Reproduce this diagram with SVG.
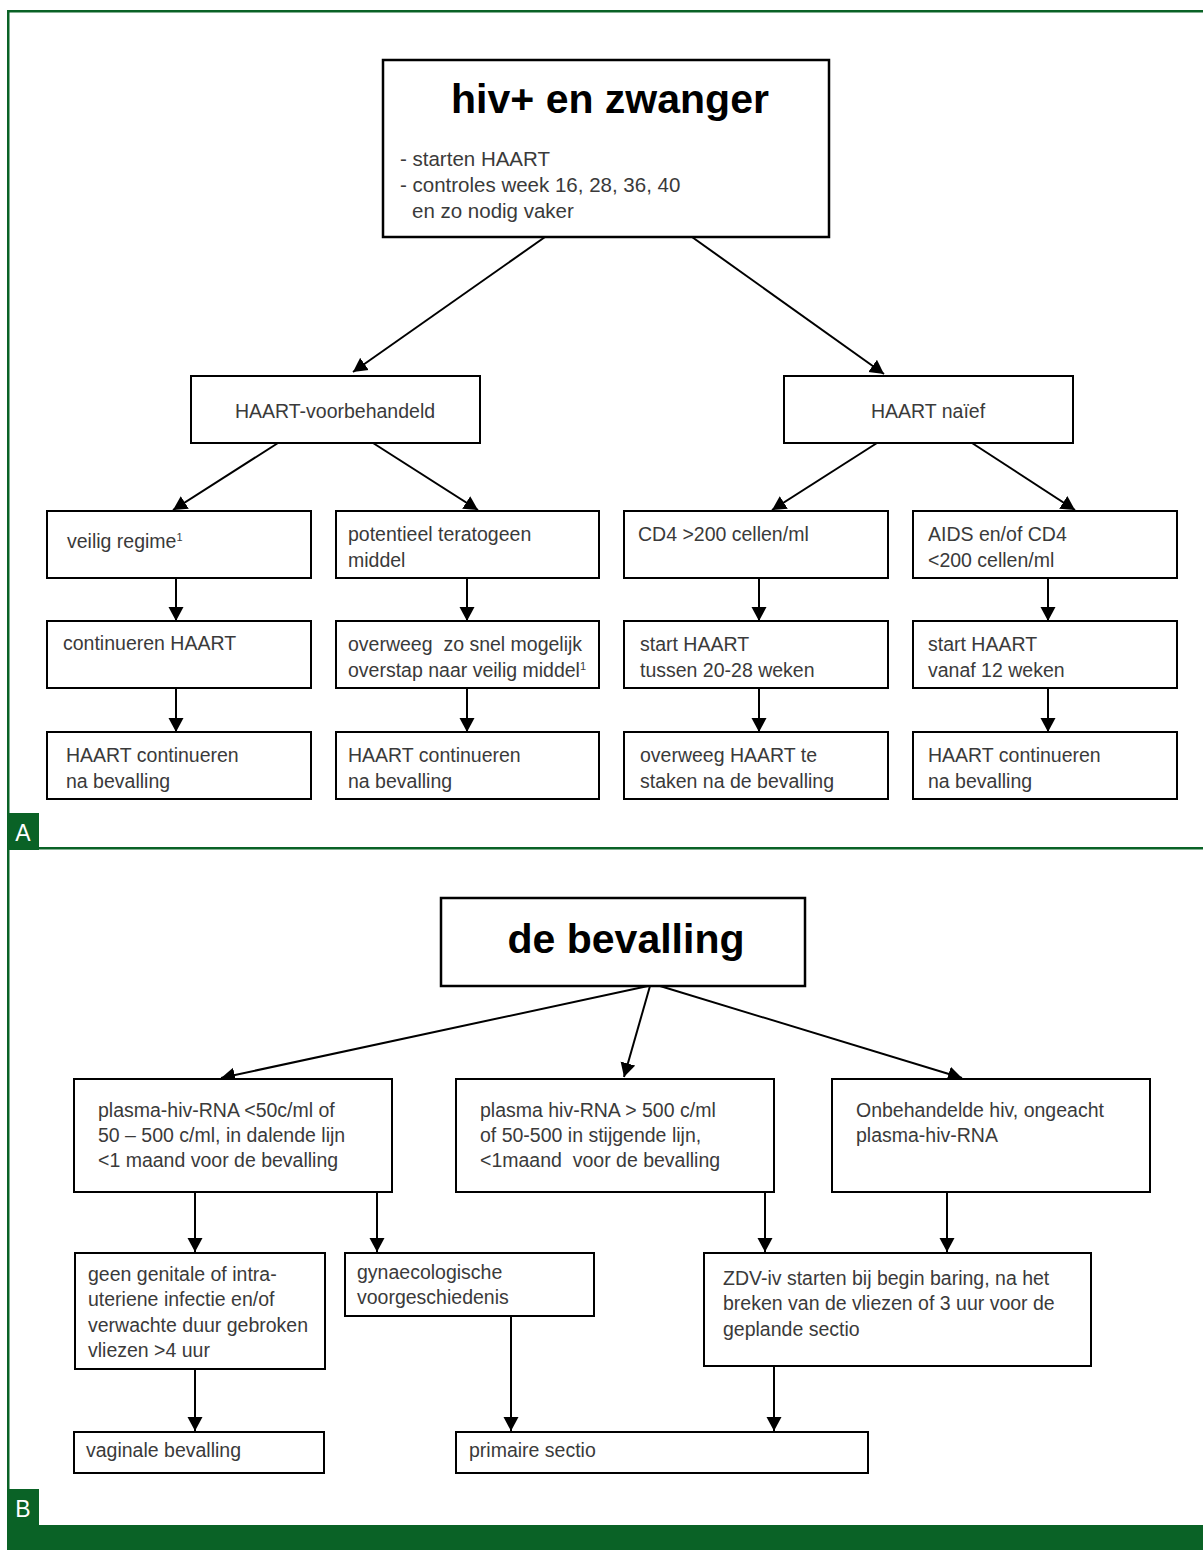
<svg xmlns="http://www.w3.org/2000/svg" width="1203" height="1550" viewBox="0 0 1203 1550">
<style>
.box{fill:#fff;stroke:#000;stroke-width:2}
.t{font-family:"Liberation Sans",Arial,sans-serif;font-size:19.5px;fill:#3a3a3a;white-space:pre}
.tb{font-size:20.5px}
.title{font-family:"Liberation Sans",Arial,sans-serif;font-size:41px;font-weight:bold;fill:#000;text-anchor:middle}
.sup{font-size:11px}
.c{stroke:#000;stroke-width:2;fill:none;marker-end:url(#ah)}
.lab{font-family:"Liberation Sans",Arial,sans-serif;font-size:23px;fill:#fff;text-anchor:middle}
.g{fill:#0a6226}
</style>
<defs>
<marker id="ah" markerUnits="userSpaceOnUse" markerWidth="16" markerHeight="16" refX="14" refY="8" orient="auto">
<path d="M0,0.5 L14,8 L0,15.5 z" fill="#000"/>
</marker>
</defs>
<rect width="1203" height="1550" fill="#fff"/>
<g id="frame">
<rect class="g" x="7" y="10" width="1196" height="2.5"/>
<rect class="g" x="7" y="10" width="2.5" height="1515"/>
<rect class="g" x="7" y="847" width="1196" height="2.5"/>
<rect class="g" x="7" y="813" width="32" height="37"/>
<text class="lab" x="23" y="841">A</text>
<rect class="g" x="7" y="1489" width="32" height="37"/>
<text class="lab" x="23" y="1517">B</text>
<rect class="g" x="7" y="1525" width="1196" height="25"/>
</g>
<g id="connectors">
<line class="c" x1="545" y1="237" x2="353" y2="372"/>
<line class="c" x1="692" y1="237" x2="884" y2="374"/>
<line class="c" x1="278" y1="443" x2="173" y2="510"/>
<line class="c" x1="373" y1="443" x2="478" y2="510"/>
<line class="c" x1="877" y1="443" x2="772" y2="510"/>
<line class="c" x1="972" y1="443" x2="1075" y2="510"/>
<line class="c" x1="176" y1="578" x2="176" y2="621"/>
<line class="c" x1="467" y1="578" x2="467" y2="621"/>
<line class="c" x1="759" y1="578" x2="759" y2="621"/>
<line class="c" x1="1048" y1="578" x2="1048" y2="621"/>
<line class="c" x1="176" y1="688" x2="176" y2="732"/>
<line class="c" x1="467" y1="688" x2="467" y2="732"/>
<line class="c" x1="759" y1="688" x2="759" y2="732"/>
<line class="c" x1="1048" y1="688" x2="1048" y2="732"/>
<line class="c" x1="648" y1="986" x2="221" y2="1078"/>
<line class="c" x1="650" y1="986" x2="624" y2="1077"/>
<line class="c" x1="660" y1="986" x2="962" y2="1078"/>
<line class="c" x1="195" y1="1192" x2="195" y2="1252"/>
<line class="c" x1="377" y1="1192" x2="377" y2="1252"/>
<line class="c" x1="765" y1="1192" x2="765" y2="1252"/>
<line class="c" x1="947" y1="1192" x2="947" y2="1252"/>
<line class="c" x1="195" y1="1369" x2="195" y2="1431"/>
<line class="c" x1="511" y1="1316" x2="511" y2="1431"/>
<line class="c" x1="774" y1="1366" x2="774" y2="1431"/>
</g>
<g id="n-top">
<rect class="box" x="383" y="60" width="446" height="177" style="stroke-width:2.5"/>
<text class="title" x="610" y="113">hiv+ en zwanger</text>
<text class="t tb" x="400" y="166">- starten HAART</text>
<text class="t tb" x="400" y="192">- controles week 16, 28, 36, 40</text>
<text class="t tb" x="412" y="218">en zo nodig vaker</text>
</g>
<g id="n-voorbehandeld">
<rect class="box" x="191" y="376" width="289" height="67"/>
<text class="t" x="335" y="418" text-anchor="middle">HAART-voorbehandeld</text>
</g>
<g id="n-naief">
<rect class="box" x="784" y="376" width="289" height="67"/>
<text class="t" x="928" y="418" text-anchor="middle">HAART naïef</text>
</g>
<g id="n-veilig">
<rect class="box" x="47" y="511" width="264" height="67"/>
<text class="t" x="67" y="548">veilig regime<tspan class="sup" dy="-7">1</tspan></text>
</g>
<g id="n-teratogeen">
<rect class="box" x="336" y="511" width="263" height="67"/>
<text class="t" x="348" y="541">potentieel teratogeen</text>
<text class="t" x="348" y="567">middel</text>
</g>
<g id="n-cd4hi">
<rect class="box" x="624" y="511" width="264" height="67"/>
<text class="t" x="638" y="541">CD4 &gt;200 cellen/ml</text>
</g>
<g id="n-aids">
<rect class="box" x="913" y="511" width="264" height="67"/>
<text class="t" x="928" y="541">AIDS en/of CD4</text>
<text class="t" x="928" y="567">&lt;200 cellen/ml</text>
</g>
<g id="n-continueren">
<rect class="box" x="47" y="621" width="264" height="67"/>
<text class="t" x="63" y="650">continueren HAART</text>
</g>
<g id="n-overstap">
<rect class="box" x="336" y="621" width="263" height="67"/>
<text class="t" x="348" y="651" xml:space="preserve">overweeg  zo snel mogelijk</text>
<text class="t" x="348" y="677">overstap naar veilig middel<tspan class="sup" dy="-7">1</tspan></text>
</g>
<g id="n-start2028">
<rect class="box" x="624" y="621" width="264" height="67"/>
<text class="t" x="640" y="651">start HAART</text>
<text class="t" x="640" y="677">tussen 20-28 weken</text>
</g>
<g id="n-start12">
<rect class="box" x="913" y="621" width="264" height="67"/>
<text class="t" x="928" y="651">start HAART</text>
<text class="t" x="928" y="677">vanaf 12 weken</text>
</g>
<g id="n-na1">
<rect class="box" x="47" y="732" width="264" height="67"/>
<text class="t" x="66" y="762">HAART continueren</text>
<text class="t" x="66" y="788">na bevalling</text>
</g>
<g id="n-na2">
<rect class="box" x="336" y="732" width="263" height="67"/>
<text class="t" x="348" y="762">HAART continueren</text>
<text class="t" x="348" y="788">na bevalling</text>
</g>
<g id="n-staken">
<rect class="box" x="624" y="732" width="264" height="67"/>
<text class="t" x="640" y="762">overweeg HAART te</text>
<text class="t" x="640" y="788">staken na de bevalling</text>
</g>
<g id="n-na4">
<rect class="box" x="913" y="732" width="264" height="67"/>
<text class="t" x="928" y="762">HAART continueren</text>
<text class="t" x="928" y="788">na bevalling</text>
</g>
<g id="n-bevalling">
<rect class="box" x="441" y="898" width="364" height="88" style="stroke-width:2.5"/>
<text class="title" x="626" y="953">de bevalling</text>
</g>
<g id="n-rna-low">
<rect class="box" x="74" y="1079" width="318" height="113"/>
<text class="t" x="98" y="1117">plasma-hiv-RNA &lt;50c/ml of</text>
<text class="t" x="98" y="1142">50 – 500 c/ml, in dalende lijn</text>
<text class="t" x="98" y="1167">&lt;1 maand voor de bevalling</text>
</g>
<g id="n-rna-high">
<rect class="box" x="456" y="1079" width="318" height="113"/>
<text class="t" x="480" y="1117">plasma hiv-RNA &gt; 500 c/ml</text>
<text class="t" x="480" y="1142">of 50-500 in stijgende lijn,</text>
<text class="t" x="480" y="1167" xml:space="preserve">&lt;1maand  voor de bevalling</text>
</g>
<g id="n-onbehandeld">
<rect class="box" x="832" y="1079" width="318" height="113"/>
<text class="t" x="856" y="1117">Onbehandelde hiv, ongeacht</text>
<text class="t" x="856" y="1142">plasma-hiv-RNA</text>
</g>
<g id="n-geen">
<rect class="box" x="75" y="1253" width="250" height="116"/>
<text class="t" x="88" y="1281">geen genitale of intra-</text>
<text class="t" x="88" y="1306">uteriene infectie en/of</text>
<text class="t" x="88" y="1332">verwachte duur gebroken</text>
<text class="t" x="88" y="1357">vliezen &gt;4 uur</text>
</g>
<g id="n-gyn">
<rect class="box" x="345" y="1253" width="249" height="63"/>
<text class="t" x="357" y="1279">gynaecologische</text>
<text class="t" x="357" y="1304">voorgeschiedenis</text>
</g>
<g id="n-zdv">
<rect class="box" x="704" y="1253" width="387" height="113"/>
<text class="t" x="723" y="1285">ZDV-iv starten bij begin baring, na het</text>
<text class="t" x="723" y="1310">breken van de vliezen of 3 uur voor de</text>
<text class="t" x="723" y="1336">geplande sectio</text>
</g>
<g id="n-vaginaal">
<rect class="box" x="74" y="1432" width="250" height="41"/>
<text class="t" x="86" y="1457">vaginale bevalling</text>
</g>
<g id="n-sectio">
<rect class="box" x="456" y="1432" width="412" height="41"/>
<text class="t" x="469" y="1457">primaire sectio</text>
</g>
</svg>
